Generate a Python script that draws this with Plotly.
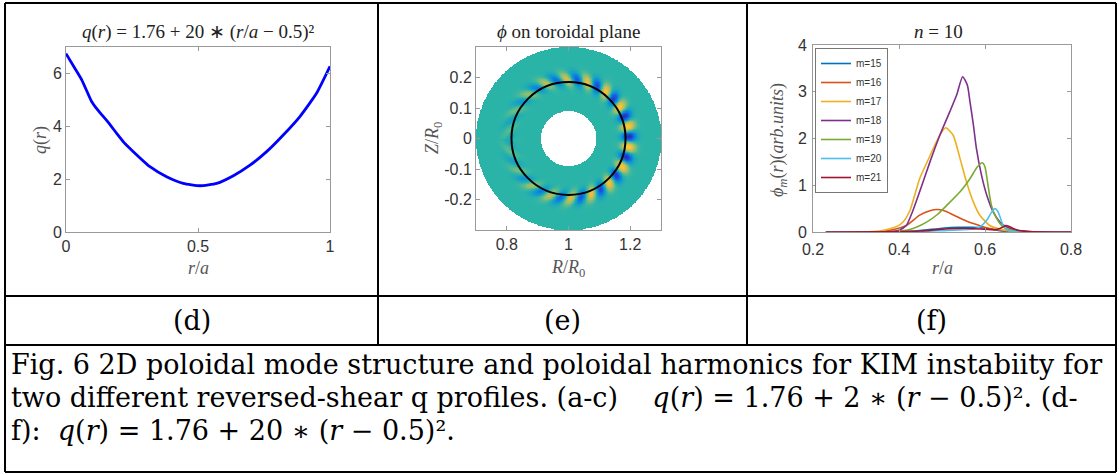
import numpy as np
import plotly.graph_objects as go

W, H = 1119, 475

# ---------------- Panel (d): q profile ----------------
q_r = [0.0, 0.03, 0.06, 0.097, 0.12, 0.16, 0.192, 0.22, 0.255, 0.318, 0.381, 0.444, 0.508,
       0.571, 0.634, 0.697, 0.76, 0.823, 0.886, 0.949, 1.0]
q_val = [6.75, 6.25, 5.75, 4.94, 4.62, 4.15, 3.73, 3.38, 3.04, 2.47, 2.09, 1.84, 1.75,
         1.84, 2.13, 2.53, 3.04, 3.67, 4.37, 5.25, 6.27]

# ---------------- Panel (e): poloidal mode structure ----------------
ring_inner = 0.09          # inner edge of annulus (R/R0 units)
ring_outer = 0.30          # outer edge of annulus
q_surface_radius = 0.185   # black circle
mode_m = 18                # number of poloidal wavelengths
mode_r0 = 0.195            # radial centre of the blobs
mode_width = 0.022         # radial width of the blobs
mode_phase_deg = 2.0       # blue blob at outboard midplane
mode_tilt = -30.0          # ballooning tilt
env_theta_deg = [-180, -150, -120, -90, -60, -30, 0, 30, 60, 90, 120, 150, 180]
env_amp = [0.12, 0.22, 0.45, 0.62, 0.78, 0.9, 1.0, 0.9, 0.78, 0.62, 0.45, 0.22, 0.12]

# ---------------- Panel (f): poloidal harmonics ----------------
m15_r = [0.23, 0.42, 0.46, 0.50, 0.54, 0.57, 0.60, 0.62, 0.64, 0.67, 0.80]
m15_v = [0.0, 0.01, 0.04, 0.08, 0.10, 0.10, 0.08, 0.05, 0.02, 0.005, 0.0]
m16_r = [0.23, 0.36, 0.39, 0.417, 0.448, 0.47, 0.491, 0.51, 0.534, 0.555, 0.573, 0.604, 0.635, 0.67, 0.80]
m16_v = [0.0, 0.01, 0.06, 0.14, 0.36, 0.45, 0.48, 0.44, 0.33, 0.24, 0.18, 0.09, 0.04, 0.01, 0.0]
m17_r = [0.23, 0.34, 0.37, 0.395, 0.41, 0.425, 0.448, 0.468, 0.487, 0.50, 0.509, 0.526, 0.542,
         0.557, 0.573, 0.588, 0.611, 0.64, 0.68, 0.80]
m17_v = [0.0, 0.01, 0.05, 0.12, 0.22, 0.45, 1.14, 1.55, 1.93, 2.15, 2.23, 2.07, 1.57,
         1.07, 0.64, 0.36, 0.14, 0.05, 0.01, 0.0]
m18_r = [0.23, 0.37, 0.40, 0.417, 0.432, 0.448, 0.472, 0.495, 0.518, 0.534, 0.548, 0.559, 0.565,
         0.573, 0.58, 0.592, 0.604, 0.619, 0.635, 0.65, 0.67, 0.70, 0.80]
m18_v = [0.0, 0.0, 0.04, 0.14, 0.45, 0.86, 1.5, 2.07, 2.57, 2.93, 3.32, 3.14, 2.79,
         2.29, 1.79, 1.21, 0.79, 0.43, 0.21, 0.11, 0.04, 0.01, 0.0]
m19_r = [0.23, 0.38, 0.42, 0.44, 0.464, 0.49, 0.511, 0.542, 0.565, 0.582, 0.594, 0.60, 0.607,
         0.615, 0.627, 0.642, 0.66, 0.70, 0.80]
m19_v = [0.0, 0.0, 0.04, 0.10, 0.21, 0.38, 0.57, 0.86, 1.14, 1.39, 1.48, 1.39, 1.0,
         0.57, 0.29, 0.11, 0.04, 0.01, 0.0]
m20_r = [0.23, 0.45, 0.50, 0.55, 0.575, 0.588, 0.604, 0.615, 0.623, 0.63, 0.635, 0.642, 0.65, 0.67, 0.80]
m20_v = [0.0, 0.01, 0.03, 0.05, 0.07, 0.11, 0.25, 0.42, 0.50, 0.44, 0.32, 0.14, 0.05, 0.01, 0.0]
m21_r = [0.23, 0.45, 0.50, 0.55, 0.60, 0.625, 0.64, 0.649, 0.66, 0.675, 0.70, 0.80]
m21_v = [0.0, 0.02, 0.06, 0.08, 0.06, 0.05, 0.10, 0.14, 0.10, 0.04, 0.01, 0.0]

harm_labels = ["m=15", "m=16", "m=17", "m=18", "m=19", "m=20", "m=21"]
harm_r = [m15_r, m16_r, m17_r, m18_r, m19_r, m20_r, m21_r]
harm_v = [m15_v, m16_v, m17_v, m18_v, m19_v, m20_v, m21_v]
harm_colors = ["#0072BD", "#D95319", "#EDB120", "#7E2F8E", "#77AC30", "#4DBEEE", "#A2142F"]

# ---------------- texts ----------------
row_labels = ["(d)", "(e)", "(f)"]
caption_lines = [
    "Fig. 6 2D poloidal mode structure and poloidal harmonics for KIM instabiity for",
    "two different reversed-shear q profiles. (a-c)\u00a0\u00a0\u00a0\u00a0<i>q</i>(<i>r</i>) = 1.76 + 2 \u2217 (<i>r</i> \u2212 0.5)\u00b2. (d-",
    "f):\u00a0\u00a0<i>q</i>(<i>r</i>) = 1.76 + 20 \u2217 (<i>r</i> \u2212 0.5)\u00b2.",
]


def px_x(x):
    return x / W


def px_y(y):
    return 1 - y / H


fig = go.Figure()

# Panel d
fig.add_trace(go.Scatter(x=q_r, y=q_val, mode="lines", line=dict(color="#0000FF", width=2.8, shape="spline", smoothing=0.5),
                         xaxis="x", yaxis="y", showlegend=False))

# Panel e heatmap
N = 321
gx = np.linspace(0.7, 1.3, N)
gy = np.linspace(-0.3, 0.3, N)
RR, ZZ = np.meshgrid(gx, gy)
rr = np.hypot(RR - 1.0, ZZ)
th = np.arctan2(ZZ, RR - 1.0)
env = np.interp(np.degrees(th), env_theta_deg, env_amp)
phase = mode_m * (th - np.radians(mode_phase_deg)) + mode_tilt * (rr - mode_r0) * th
field = -env * np.exp(-((rr - mode_r0) / mode_width) ** 2) * np.cos(phase)
field[(rr < ring_inner) | (rr > ring_outer)] = np.nan

parula_like = [
    [0.0, "rgb(38,40,185)"], [0.18, "rgb(22,95,225)"], [0.35, "rgb(12,150,212)"],
    [0.5, "rgb(42,180,168)"], [0.65, "rgb(135,191,118)"], [0.82, "rgb(225,186,72)"],
    [1.0, "rgb(250,206,40)"],
]
fig.add_trace(go.Heatmap(x=gx, y=gy, z=field, colorscale=parula_like, zmin=-1, zmax=1,
                         showscale=False, xaxis="x2", yaxis="y2", hoverinfo="skip"))

# Panel f
for lab, r, v, c in zip(harm_labels, harm_r, harm_v, harm_colors):
    fig.add_trace(go.Scatter(x=r, y=v, mode="lines", name=lab,
                             line=dict(color=c, width=1.6, shape="spline", smoothing=0.6),
                             xaxis="x3", yaxis="y3"))

tickfont = dict(family="Liberation Sans, Arial", size=16, color="#333333")
axcommon = dict(showline=True, linecolor="#9a9a9a", linewidth=1, mirror="ticks", ticks="inside",
                ticklen=4, tickcolor="#9a9a9a", showgrid=False, zeroline=False, tickfont=tickfont,
                automargin=False)

shapes = []
# Table borders
line_style = dict(color="black", width=2)
for yy in [3, 296, 345, 472]:
    shapes.append(dict(type="line", xref="paper", yref="paper", x0=px_x(5), x1=px_x(1116),
                       y0=px_y(yy), y1=px_y(yy), line=line_style))
for xx in [5, 1116]:
    shapes.append(dict(type="line", xref="paper", yref="paper", x0=px_x(xx), x1=px_x(xx),
                       y0=px_y(3), y1=px_y(472), line=line_style))
for xx in [378, 747]:
    shapes.append(dict(type="line", xref="paper", yref="paper", x0=px_x(xx), x1=px_x(xx),
                       y0=px_y(3), y1=px_y(345), line=line_style))
# q=const surface circle
shapes.append(dict(type="circle", xref="x2", yref="y2",
                   x0=1 - q_surface_radius, x1=1 + q_surface_radius,
                   y0=-q_surface_radius, y1=q_surface_radius,
                   line=dict(color="black", width=2)))

serif = "Liberation Serif, Times New Roman, serif"
capfont = "DejaVu Serif"
ann = []


def add_text(text, x, y, size, color="#222222", family=serif, angle=0, xanchor="center"):
    ann.append(dict(text=text, x=px_x(x), y=px_y(y), xref="paper", yref="paper", showarrow=False,
                    font=dict(family=family, size=size, color=color), textangle=angle,
                    xanchor=xanchor, yanchor="middle"))


# titles
add_text("<i>q</i>(<i>r</i>) = 1.76 + 20 \u2217 (<i>r</i>/<i>a</i> \u2212 0.5)\u00b2", 198, 32, 19)
add_text("<i>\u03d5</i> on toroidal plane", 568, 32, 19)
add_text("<i>n</i> = 10", 938, 32, 19)
# axis labels
axc = "#555555"
add_text("<i>r</i>/<i>a</i>", 198, 268, 18, axc)
add_text("<i>q</i>(<i>r</i>)", 40, 140, 18, axc, angle=-90)
add_text("<i>R</i>/<i>R</i><sub>0</sub>", 568, 268, 18, axc)
add_text("<i>Z</i>/<i>R</i><sub>0</sub>", 433, 138, 18, axc, angle=-90)
add_text("<i>r</i>/<i>a</i>", 942, 268, 18, axc)
add_text("<i>\u03d5<sub>m</sub></i>(<i>r</i>)(<i>arb.units</i>)", 778, 140, 18, axc, angle=-90)
# row labels
for lab, cx in zip(row_labels, [191.5, 562.5, 931.5]):
    add_text(lab, cx, 320, 27, "#000000", family=capfont)
# caption
for i, line in enumerate(caption_lines):
    add_text(line, 9, 364 + 33 * i, 27, "#000000", family=capfont, xanchor="left")

fig.update_layout(
    template="none",
    width=W, height=H, margin=dict(l=0, r=0, t=0, b=0, pad=0, autoexpand=False),
    paper_bgcolor="white", plot_bgcolor="white",
    xaxis=dict(domain=[px_x(66), px_x(330)], range=[0, 1], tickvals=[0, 0.5, 1],
               ticktext=["0", "0.5", "1"], anchor="y", **axcommon),
    yaxis=dict(domain=[px_y(232), px_y(47)], range=[0, 7], tickvals=[0, 2, 4, 6], anchor="x", **axcommon),
    xaxis2=dict(domain=[px_x(476), px_x(661)], range=[0.7, 1.3], tickvals=[0.8, 1, 1.2],
                ticktext=["0.8", "1", "1.2"], anchor="y2", **axcommon),
    yaxis2=dict(domain=[px_y(230), px_y(47)], range=[-0.3, 0.3], tickvals=[-0.2, -0.1, 0, 0.1, 0.2],
                ticktext=["-0.2", "-0.1", "0", "0.1", "0.2"], anchor="x2", **axcommon),
    xaxis3=dict(domain=[px_x(813), px_x(1071)], range=[0.2, 0.8], tickvals=[0.2, 0.4, 0.6, 0.8],
                ticktext=["0.2", "0.4", "0.6", "0.8"], anchor="y3", ticklabelstandoff=3, **axcommon),
    yaxis3=dict(domain=[px_y(232), px_y(45)], range=[0, 4], tickvals=[0, 1, 2, 3, 4], anchor="x3",
                ticklabelstandoff=2, **axcommon),
    legend=dict(x=px_x(815), y=px_y(48), xanchor="left", yanchor="top", bgcolor="white",
                bordercolor="#777777", borderwidth=1, font=dict(family="Liberation Sans, Arial", size=10, color="#333"),
                tracegroupgap=0, itemwidth=30),
    shapes=shapes, annotations=ann,
)

fig.write_html("out.html")
